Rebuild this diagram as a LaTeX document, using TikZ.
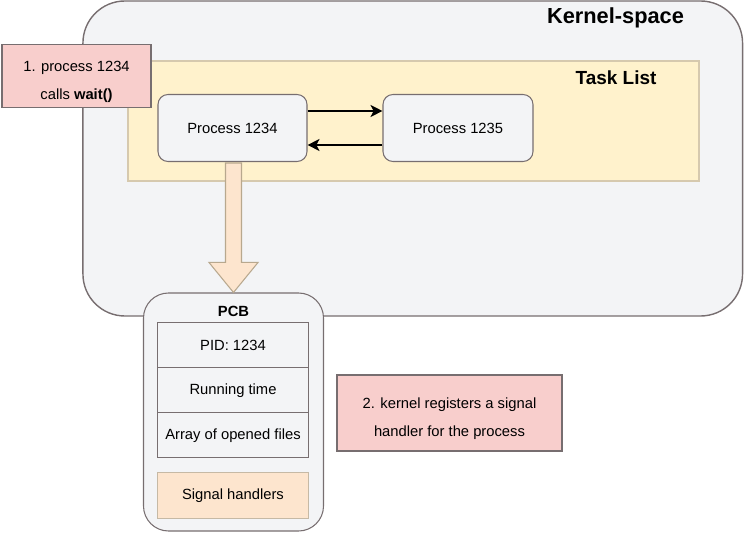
\documentclass[tikz,border=0pt]{standalone}
\usepackage{fontspec}
\setmainfont{Liberation Sans}
\usetikzlibrary{arrows.meta,positioning,calc}
\definecolor{kernel}{HTML}{F3F4F6}
\definecolor{edge}{HTML}{776E70}
\definecolor{tasks}{HTML}{FFF2CC}
\definecolor{tasksline}{HTML}{D6C9AE}
\definecolor{note}{HTML}{F8CECC}
\definecolor{peach}{HTML}{FDE5CE}
\definecolor{peachline}{HTML}{B8A88E}

\begin{document}
\begin{tikzpicture}[x=0.25mm,y=-0.25mm,>={Stealth[length=3mm,width=3mm,inset=0.8mm]},
		every node/.style={font=\fontsize{10.5}{12.6}\selectfont},
		kernelbox/.style={draw=edge,line width=1pt,fill=kernel,rounded corners=10.5mm,minimum width=164.9mm,minimum height=78.75mm},
		taskbox/.style={draw=tasksline,line width=0.75pt,fill=tasks,minimum width=142.75mm,minimum height=30mm},
		procbox/.style={draw=edge,line width=0.75pt,fill=kernel,rounded corners=2.5mm,minimum height=16.75mm},
		notebox/.style={draw=edge,line width=0.75pt,fill=note,align=center,font=\fontsize{10.5}{20}\selectfont},
		rowbox/.style={draw=edge,line width=0.75pt,fill=kernel,outer sep=0pt,minimum width=37.75mm,minimum height=11.25mm}
	]
		%
		\useasboundingbox (0,0) rectangle (744,536);
		\begin{scope}
			\node[kernelbox] (kernel) at (412.75,158.5) {};
			\node[font=\bfseries\fontsize{15.5}{18}\selectfont] (kernellabel) at (615.5,18) {Kernel-space};
			%
			\node[taskbox] (tasklist) at (413.5,121) {};
			\node[font=\bfseries\fontsize{13.5}{16}\selectfont] (tasklabel) at (616,78) {Task List};
			%
			\node[procbox,minimum width=37.25mm] (p1234) at (232.5,128) {Process 1234};
			\node[procbox,minimum width=37.5mm] (p1235) at (458,128) {Process 1235};
			\draw[->,line width=0.9pt] ($(p1234.east)+(0,-17)$) -- ($(p1235.west)+(0,-17)$);
			\draw[->,line width=0.9pt] ($(p1235.west)+(0,17)$) -- ($(p1234.east)+(0,17)$);
			%
			\node[notebox,minimum width=37.25mm,minimum height=14.9mm] (step1) at (76.5,75.75) {\rule{0pt}{16pt}1. process 1234\\calls \textbf{wait()}};
			%
			\node[draw=edge,line width=0.75pt,fill=kernel,rounded corners=6.25mm,minimum width=45mm,minimum height=59.5mm] (pcb) at (233.5,412) {};
			\node[font=\bfseries\fontsize{10.5}{12.6}\selectfont] (pcblabel) at ($(pcb.north)+(0,19)$) {PCB};
			\draw[draw=peachline,line width=0.75pt,fill=peach]
				($(pcb.north |- p1234.south)+(-8,1)$) -- ($(pcb.north)+(-8,-30)$) -- ($(pcb.north)+(-24.5,-30)$)
				-- (pcb.north) -- ($(pcb.north)+(24.5,-30)$) -- ($(pcb.north)+(8,-30)$) -- ($(pcb.north |- p1234.south)+(8,1)$) -- cycle;
			%
			\node[rowbox] (pid) at (233,345.2) {PID: 1234};
			\node[rowbox,below=0pt of pid] (runtime) {Running time};
			\node[rowbox,below=0pt of runtime] (files) {Array of opened files};
			\node[rowbox,below=3.65mm of files,draw=peachline!80,fill=peach,minimum height=11.5mm] (handlers) {Signal handlers};
			%
			\node[notebox,minimum width=56.25mm,minimum height=19mm] (step2) at (449.5,413) {\rule{0pt}{16pt}2. kernel registers a signal\\handler for the process};
		\end{scope}
		%
	\end{tikzpicture}
\end{document}
